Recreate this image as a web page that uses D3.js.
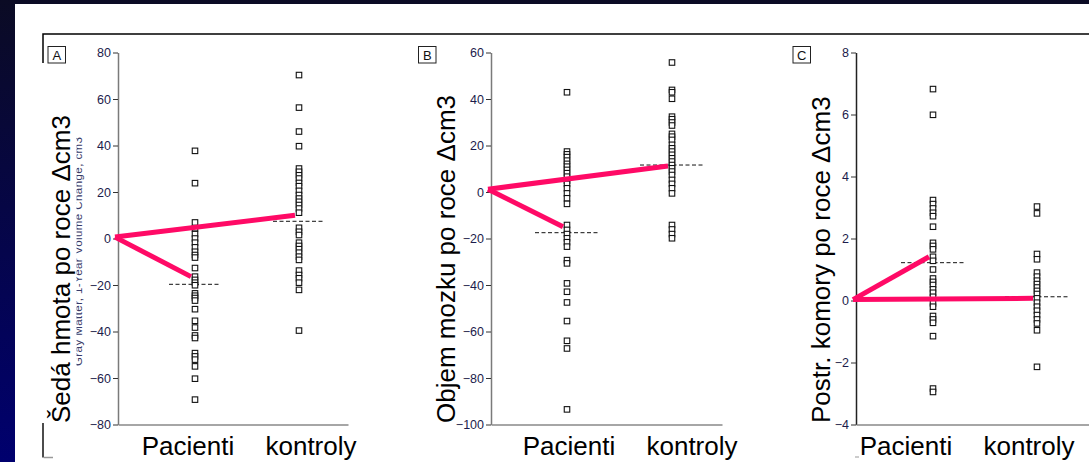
<!DOCTYPE html>
<html>
<head>
<meta charset="utf-8">
<script src="https://cdn.jsdelivr.net/npm/d3@7"></script>
<style>
  html, body { margin: 0; padding: 0; overflow: hidden; }
  body { width: 1089px; height: 462px; }
  text { font-family: "Liberation Sans", Arial, sans-serif; }
</style>
</head>
<body>
<div id="chart"></div>
<script>
// groups on the x axis
const groups = ["Pacienti", "kontroly"];

// A - gray matter, 1-year change (cm3)
const grayTicks = [-80, -60, -40, -20, 0, 20, 40, 60, 80];
const grayPatients = [37.7, 23.8, 6.9, 4.4, 1.9, 0, -1.8, -3.8, -5.7, -7.1, -8.2, -12.7,
  -16.4, -17.8, -19, -20.1, -23.6, -24.6, -25.6, -26.7, -30.4, -35.4, -38.3, -41.7, -42.8,
  -49.3, -50.7, -52.1, -55, -60.3, -69.3];
const grayControls = [70.3, 56.3, 46, 39.7, 30.1, 28.7, 27.2, 25.8, 23.9, 22.5, 20.5,
  18.7, 17.2, 15.8, 14.4, 12.9, 11.1, 4.6, 2.9, 1.5, -1.8, -3.2, -4.6, -6.1, -7.8, -9.2,
  -13.8, -15.7, -17.1, -19, -22.1, -39.6];
const grayMeans = [-19.7, 7.4];
const grayTrendStart = 0.6;
const grayTrend = [-16.4, 10];

// B - brain volume, 1-year change (cm3)
const brainTicks = [-100, -80, -60, -40, -20, 0, 20, 40, 60];
const brainPatients = [42.9, 17.4, 16.2, 15, 13.5, 12.1, 10.9, 9.5, 8.1, 6.6, 4.9, 3.5,
  1.6, -0.6, -2.7, -5.1, -14.2, -16.3, -18.1, -19.9, -21.6, -23.5, -29.3, -30.7, -39.3,
  -42.9, -47.5, -55.5, -64, -67.3, -93.5];
const brainControls = [55.7, 43.9, 42.9, 40.1, 32.4, 31.3, 29.9, 28.6, 25, 23.8, 22.4,
  20.3, 18.8, 17.4, 16, 14.5, 13.1, 11.6, 10.2, 8.8, 7.3, 5.2, 3.5, 1.6, -0.6, -14.2,
  -16.1, -18.1, -19.9];
const brainMeans = [-17.5, 11.6];
const brainTrendStart = 1.2;
const brainTrend = [-14.9, 11.2];

// C - posterior ventricles, 1-year change (cm3)
const ventTicks = [-4, -2, 0, 2, 4, 6, 8];
const ventPatients = [6.82, 5.99, 3.24, 3.11, 2.97, 2.83, 2.72, 2.38, 1.86, 1.76, 1.65,
  1.41, 1.28, 1, 0.71, 0.6, 0.5, 0.36, 0.25, 0.12, -0.09, -0.2, -0.5, -0.61, -0.72,
  -1.15, -2.84, -2.95];
const ventControls = [3.03, 2.81, 1.5, 1.33, 0.9, 0.77, 0.64, 0.53, 0.42, 0.31, 0.21,
  0.07, -0.07, -0.2, -0.33, -0.47, -0.61, -0.74, -0.96, -2.14];
const ventMeans = [1.22, 0.12];
const ventTrendStart = 0.03;
const ventTrend = [1.41, 0.07];

const width = 1089, height = 462;
const pink = "#ff0a66";

const svg = d3.select("#chart").append("svg")
    .attr("width", width)
    .attr("height", height);

// slide background
const grad = svg.append("defs").append("linearGradient")
    .attr("id", "bg").attr("x1", 0).attr("y1", 0).attr("x2", 0).attr("y2", 1);
grad.append("stop").attr("offset", "0%").attr("stop-color", "#0b0b24");
grad.append("stop").attr("offset", "100%").attr("stop-color", "#00006e");
svg.append("rect").attr("width", width).attr("height", height).attr("fill", "url(#bg)");
svg.append("rect").attr("x", 15).attr("y", 4)
    .attr("width", width - 15).attr("height", height - 4).attr("fill", "#fff");

// frame remains of the pasted figure
svg.append("path")
    .attr("d", "M43,63V34H" + width)
    .attr("fill", "none").attr("stroke", "#000").attr("stroke-width", 1.5);
svg.append("path")
    .attr("d", "M43,423V457.5")
    .attr("fill", "none").attr("stroke", "#111").attr("stroke-width", 1.5);
svg.append("path")
    .attr("d", "M43.7,457.5H53")
    .attr("fill", "none").attr("stroke", "#999").attr("stroke-width", 1.5);

// original english label of panel A, partly covered
svg.append("text")
    .attr("transform", "translate(81.5,366) rotate(-90)")
    .attr("font-size", 11.5)
    .attr("fill", "#3a3a66")
    .attr("textLength", 229)
    .text("Gray Matter, 1-Year Volume Change, cm3");
svg.append("rect").attr("x", 44).attr("y", 63)
    .attr("width", 32.5).attr("height", 360).attr("fill", "#fff");

const panels = [
  {letter: "A", title: "Šedá hmota po roce \u0394cm3", ticks: grayTicks,
   patients: grayPatients, controls: grayControls, means: grayMeans,
   trendStart: grayTrendStart, trend: grayTrend,
   left: 118, right: 348, pacX: 195, konX: 299, meanHalf: 26,
   labelX: [188, 311], titleX: 70, boxX: 48, axisColor: "#7a7a7a"},
  {letter: "B", title: "Objem mozku po roce \u0394cm3", ticks: brainTicks,
   patients: brainPatients, controls: brainControls, means: brainMeans,
   trendStart: brainTrendStart, trend: brainTrend,
   left: 491, right: 722, pacX: 567, konX: 672, meanHalf: 32,
   labelX: [569, 692], titleX: 455, boxX: 418.5, axisColor: "#7a7a7a"},
  {letter: "C", title: "Postr. komory po roce \u0394cm3", ticks: ventTicks,
   patients: ventPatients, controls: ventControls, means: ventMeans,
   trendStart: ventTrendStart, trend: ventTrend,
   left: 856, right: width, pacX: 933, konX: 1037, meanHalf: 32,
   labelX: [906, 1029], titleX: 830, boxX: 793, axisColor: "#222"}
];

const yTop = 52.5, yBottom = 424.5;

panels.forEach(p => {
  const g = svg.append("g");

  const y = d3.scaleLinear()
      .domain(d3.extent(p.ticks))
      .range([yBottom, yTop]);
  const x = d3.scalePoint()
      .domain(groups)
      .range([p.pacX, p.konX]);

  // panel letter
  g.append("rect")
      .attr("x", p.boxX).attr("y", 46.5)
      .attr("width", 17.5).attr("height", 16.5)
      .attr("fill", "#fff").attr("stroke", "#222").attr("stroke-width", 1);
  g.append("text")
      .attr("x", p.boxX + 8.75).attr("y", 59.5)
      .attr("text-anchor", "middle")
      .attr("font-size", 13)
      .attr("fill", "#111")
      .text(p.letter);

  // y axis
  const yAxis = g.append("g")
      .attr("transform", "translate(" + p.left + ",0)")
      .call(d3.axisLeft(y).tickValues(p.ticks).tickSize(5).tickSizeOuter(0).tickPadding(2));
  yAxis.select(".domain").attr("stroke", p.axisColor).attr("stroke-width", 1.5);
  yAxis.selectAll(".tick line").attr("stroke", "#333");
  yAxis.selectAll(".tick text")
      .attr("font-size", 12.5)
      .attr("font-family", "\"Liberation Sans Narrow\", \"Liberation Sans\", Arial, sans-serif")
      .attr("fill", "#1c1c4c");

  // x axis
  const xLine = d3.scaleLinear().range([p.left, p.right]);
  const xAxis = g.append("g")
      .attr("transform", "translate(0," + yBottom + ")")
      .call(d3.axisBottom(xLine).tickValues([]).tickSizeOuter(0));
  xAxis.select(".domain").attr("stroke", "#888").attr("stroke-width", 1.5);

  // group labels
  g.selectAll(".group-label")
      .data(groups)
      .enter().append("text")
        .attr("class", "group-label")
        .attr("x", (d, i) => p.labelX[i])
        .attr("y", 455)
        .attr("text-anchor", "middle")
        .attr("font-size", 26)
        .attr("fill", "#000")
        .text(d => d);

  // mean lines
  g.selectAll(".mean")
      .data(p.means)
      .enter().append("line")
        .attr("class", "mean")
        .attr("x1", (d, i) => x(groups[i]) - p.meanHalf)
        .attr("x2", (d, i) => x(groups[i]) + p.meanHalf)
        .attr("y1", d => y(d))
        .attr("y2", d => y(d))
        .attr("stroke", "#111")
        .attr("stroke-width", 1)
        .attr("stroke-dasharray", "4,2.5");

  // points
  const pts = [];
  p.patients.forEach(v => pts.push({g: groups[0], v: v}));
  p.controls.forEach(v => pts.push({g: groups[1], v: v}));
  g.selectAll(".pt")
      .data(pts)
      .enter().append("rect")
        .attr("class", "pt")
        .attr("x", d => x(d.g) - 2.75)
        .attr("y", d => y(d.v) - 2.75)
        .attr("width", 5.5)
        .attr("height", 5.5)
        .attr("fill", "#fff")
        .attr("stroke", "#111")
        .attr("stroke-width", 1.1);

  // pink trend lines from origin
  g.selectAll(".trend")
      .data(p.trend)
      .enter().append("line")
        .attr("class", "trend")
        .attr("x1", p.left - 3)
        .attr("y1", y(p.trendStart))
        .attr("x2", (d, i) => x(groups[i]) - 4)
        .attr("y2", d => y(d))
        .attr("stroke", pink)
        .attr("stroke-width", 5);

  // czech y title
  g.append("text")
      .attr("transform", "translate(" + p.titleX + ",423) rotate(-90)")
      .attr("font-size", 26)
      .attr("fill", "#000")
      .text(p.title);
});

// stray mark below panel C axis
svg.append("line")
    .attr("x1", 855).attr("x2", 859)
    .attr("y1", 457).attr("y2", 457)
    .attr("stroke", "#999").attr("stroke-width", 1);
</script>
</body>
</html>
